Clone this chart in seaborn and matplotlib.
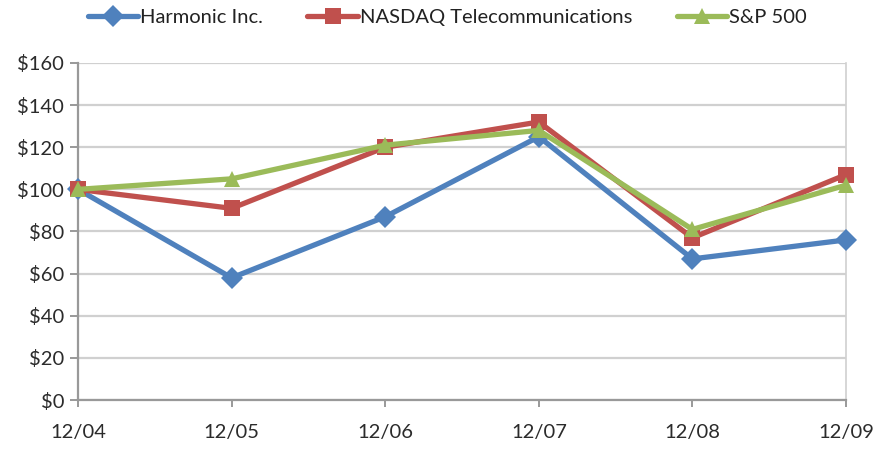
import matplotlib
matplotlib.use("Agg")
import matplotlib.pyplot as plt
import seaborn as sns
import pandas as pd
import numpy as np

periods = ["12/04", "12/05", "12/06", "12/07", "12/08", "12/09"]
harmonic = [100, 58, 87, 125, 67, 76]
nasdaq_tel = [100, 91, 120, 132, 77, 107]
sp500 = [100, 105, 121, 128, 81, 102]
series_names = ["Harmonic Inc.", "NASDAQ Telecommunications", "S&P 500"]
y_ticks = [0, 20, 40, 60, 80, 100, 120, 140, 160]

colors = ["#4F81BD", "#C0504D", "#9BBB59"]
markers = ["D", "s", "^"]

sns.set_theme(style="white")
plt.rcParams["font.family"] = ["Lato", "DejaVu Sans"]

df = pd.DataFrame({
    "x": list(range(len(periods))) * 3,
    "value": harmonic + nasdaq_tel + sp500,
    "series": sum([[n] * len(periods) for n in series_names], []),
})

fig = plt.figure(figsize=(8.77, 4.5), dpi=100)
ax = fig.add_axes([78 / 877, 1 - 400 / 450, (846 - 78) / 877, (400 - 63) / 450])

sns.lineplot(data=df, x="x", y="value", hue="series", style="series",
             palette=colors, markers=markers, dashes=False,
             linewidth=3.8, markersize=11.5, markeredgewidth=0,
             ax=ax, legend=True, zorder=3, clip_on=False)

ax.set_xlim(0, 5)
ax.set_ylim(0, 160)
ax.set_yticks(y_ticks)
ax.set_yticklabels([f"${v}" for v in y_ticks])
ax.set_xticks(range(len(periods)))
ax.set_xticklabels(periods)
ax.set_xlabel("")
ax.set_ylabel("")

ax.grid(axis="y", color="#d0d0d0", linewidth=1.6)
ax.set_axisbelow(True)
for s in ["left", "bottom"]:
    ax.spines[s].set_color("#999999")
    ax.spines[s].set_linewidth(1.6)
ax.spines["right"].set_color("#d0d0d0")
ax.spines["right"].set_linewidth(1.2)
ax.spines["top"].set_visible(False)

ax.tick_params(axis="y", which="major", length=6, width=1.4, color="#999999",
               direction="out", left=True, labelsize=14.5, labelcolor="#2b2b2b", pad=4)
ax.tick_params(axis="x", which="major", length=5, width=1.4, color="#999999",
               direction="out", bottom=True, labelsize=14.5, labelcolor="#2b2b2b", pad=12)

handles, labels = ax.get_legend_handles_labels()
ax.legend(handles, labels, loc="center", bbox_to_anchor=(0.51, 1 - 17 / 450),
          bbox_transform=fig.transFigure, ncol=3, frameon=False,
          fontsize=14.5, handlelength=2.5, handletextpad=0.1, columnspacing=2.2,
          labelcolor="#222222")

fig.savefig("out.png", dpi=100)
